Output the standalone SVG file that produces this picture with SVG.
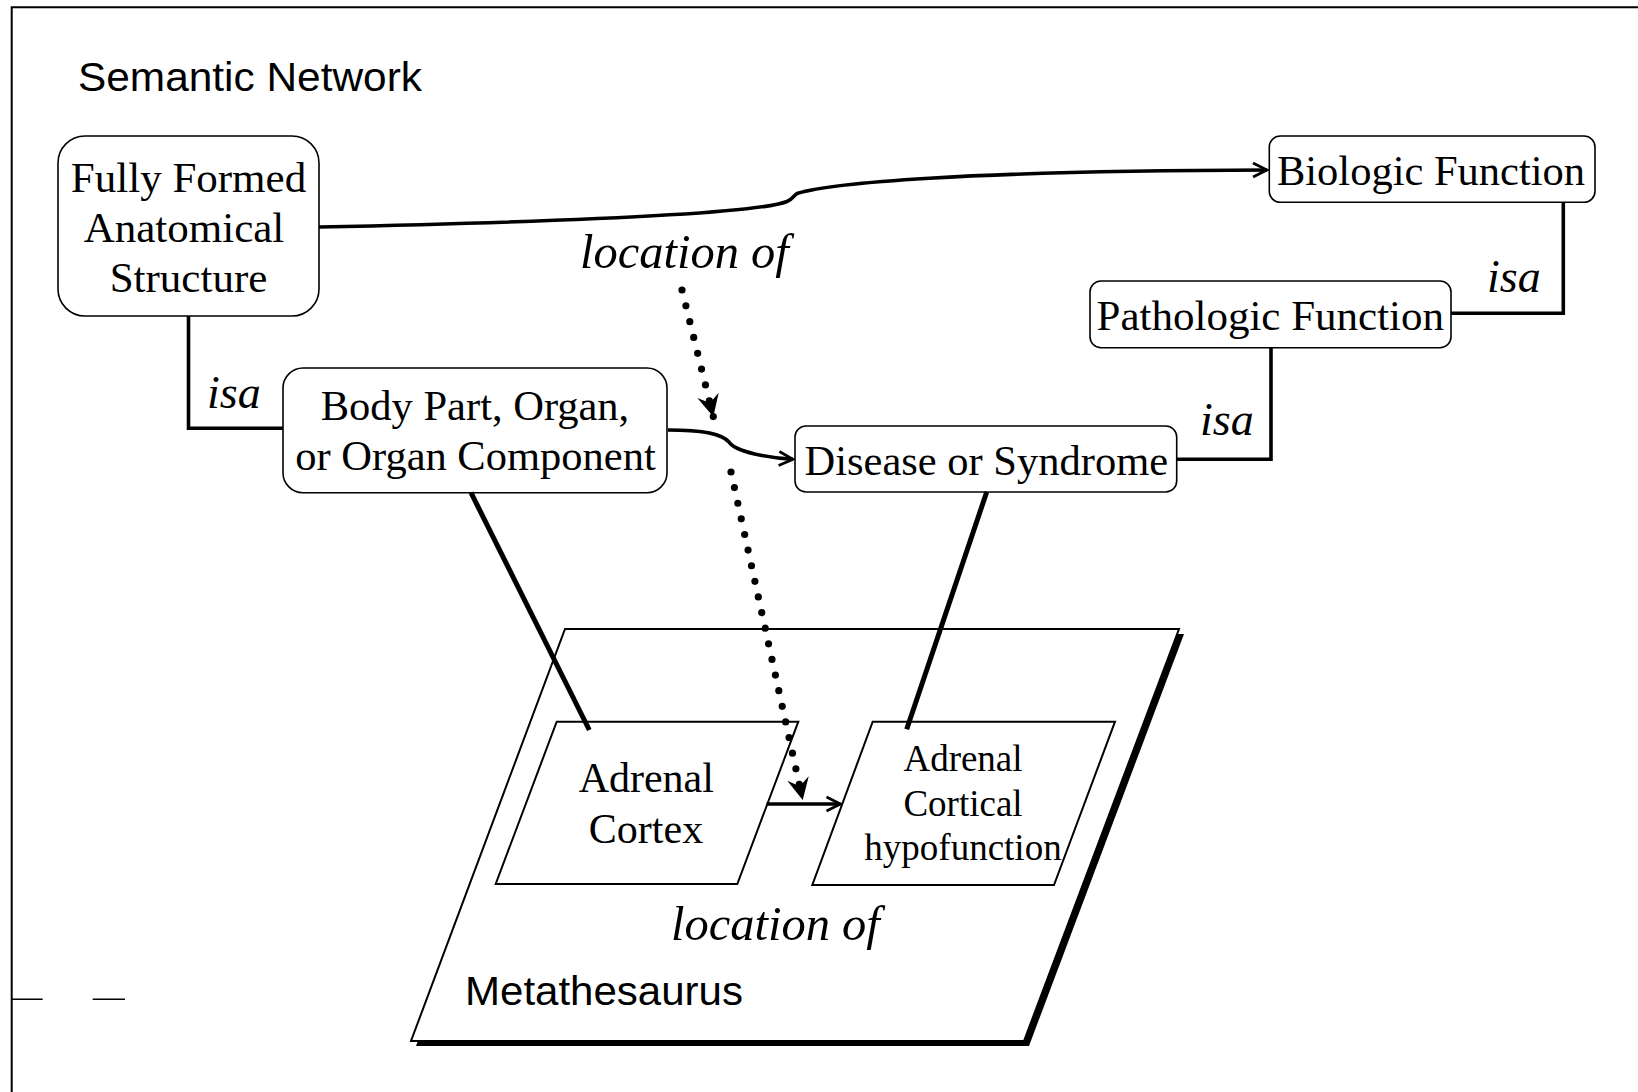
<svg xmlns="http://www.w3.org/2000/svg" width="1638" height="1092" viewBox="0 0 1638 1092">
<style>
.serif{font-family:"Liberation Serif","Times New Roman",serif;fill:#000}
.sans{font-family:"Liberation Sans",Arial,sans-serif;fill:#000}
.lbl{font-family:"Liberation Serif","Times New Roman",serif;font-style:italic;font-size:46px;fill:#000}
.lbl.big{font-size:48.5px}
.box{fill:#fff;stroke:#000;stroke-width:1.6}
.para{fill:#fff;stroke:#000;stroke-width:2}
.conn{fill:none;stroke:#000;stroke-width:3.6}
.thick{fill:none;stroke:#000;stroke-width:5}
.dots{fill:none;stroke:#000;stroke-width:7.2;stroke-linecap:round}
</style>
<defs>
<marker id="chev" viewBox="-18 -10 20 20" markerWidth="20" markerHeight="20" refX="0" refY="0" orient="auto" markerUnits="userSpaceOnUse">
<path d="M-14,-7 L0,0 L-14,7" fill="none" stroke="#000" stroke-width="2.8"/>
</marker>
<marker id="stealth" viewBox="-24 -13 26 26" markerWidth="26" markerHeight="26" refX="0" refY="0" orient="auto" markerUnits="userSpaceOnUse">
<path d="M0,0 L-22,-11 L-14,0 L-22,11 Z" fill="#000"/>
</marker>
</defs>
<rect width="1638" height="1092" fill="#fff"/>
<g id="frame" fill="none" stroke="#000">
<path d="M11.7,1092 V7.3 H1638" stroke-width="2"/>
<path d="M11.7,999.3 H42.7 M92.7,999.3 H125" stroke-width="1.5"/>
</g>
<text class="sans" x="78" y="91" font-size="40" textLength="344" lengthAdjust="spacingAndGlyphs">Semantic Network</text>
<g id="metathesaurus">
<polygon points="570,634 1184,634 1029,1046 416,1046" fill="#000"/>
<polygon class="para" points="565,629 1179,629 1024,1041 411,1041"/>
<text class="sans" x="465" y="1005" font-size="40" textLength="278" lengthAdjust="spacingAndGlyphs">Metathesaurus</text>
</g>
<g id="adrenal-cortex">
<polygon class="para" points="556.7,721.7 798.3,721.7 737.3,884 495.7,884"/>
<text class="serif" font-size="42" text-anchor="middle"><tspan x="646.3" y="791.7">Adrenal</tspan><tspan x="646" y="843.3">Cortex</tspan></text>
</g>
<g id="adrenal-hypofunction">
<polygon class="para" points="872.7,721.7 1115,721.7 1054,885 812.3,885"/>
<text class="serif" font-size="37" text-anchor="middle"><tspan x="963" y="771">Adrenal</tspan><tspan x="963" y="816">Cortical</tspan><tspan x="963" y="860">hypofunction</tspan></text>
</g>
<g id="fully-formed">
<rect class="box" x="58" y="136" width="261" height="180" rx="27"/>
<text class="serif" font-size="43" text-anchor="middle"><tspan x="188.5" y="191.7">Fully Formed</tspan><tspan x="184" y="241.7">Anatomical</tspan><tspan x="188.5" y="291.7">Structure</tspan></text>
</g>
<g id="body-part">
<rect class="box" x="283" y="368" width="384" height="124.7" rx="20"/>
<text class="serif" font-size="42.5" text-anchor="middle"><tspan x="475" y="420">Body Part, Organ,</tspan><tspan x="475.5" y="470">or Organ Component</tspan></text>
</g>
<g id="disease">
<rect class="box" x="795" y="426" width="381.7" height="66" rx="11"/>
<text class="serif" font-size="42.5" text-anchor="middle" x="986.3" y="475">Disease or Syndrome</text>
</g>
<g id="biologic">
<rect class="box" x="1269.3" y="136" width="325.7" height="66.3" rx="11"/>
<text class="serif" font-size="42.5" text-anchor="middle" x="1431" y="185">Biologic Function</text>
</g>
<g id="pathologic">
<rect class="box" x="1090" y="281" width="361" height="66.7" rx="11"/>
<text class="serif" font-size="43" text-anchor="middle" x="1270.3" y="330">Pathologic Function</text>
</g>
<g id="connectors">
<path class="conn" d="M188.5,316 V428.3 H283"/>
<path class="conn" d="M1563.3,202.3 V313.3 H1451"/>
<path class="conn" d="M1271,347.7 V459.3 H1176.7"/>
<path class="conn" marker-end="url(#chev)" d="M319,227 C600,221 758,213 787,201.5 C793,199 793,196 797,193.5 C830,183 960,171 1267,170"/>
<path class="conn" marker-end="url(#chev)" d="M668,430 C705,430 722,434 729,442 C735,452 770,458 793,459.3"/>
<path class="conn" marker-end="url(#chev)" d="M766.7,804 H840.5"/>
<path class="thick" d="M471,492.7 L589.3,730"/>
<path class="thick" d="M986.7,492 L906.7,729.3"/>
<path class="dots" stroke-dasharray="0 16.3" marker-end="url(#stealth)" d="M682,290 L713.3,416.7"/>
<path class="dots" stroke-dasharray="0 15.99" marker-end="url(#stealth)" d="M731,472 L802.7,800"/>
<text class="lbl big" x="580" y="268">location of</text>
<text class="lbl" x="207" y="408">isa</text>
<text class="lbl" x="1487" y="291.7">isa</text>
<text class="lbl" x="1200" y="435">isa</text>
<text class="lbl big" x="671" y="940">location of</text>
</g>
</svg>
